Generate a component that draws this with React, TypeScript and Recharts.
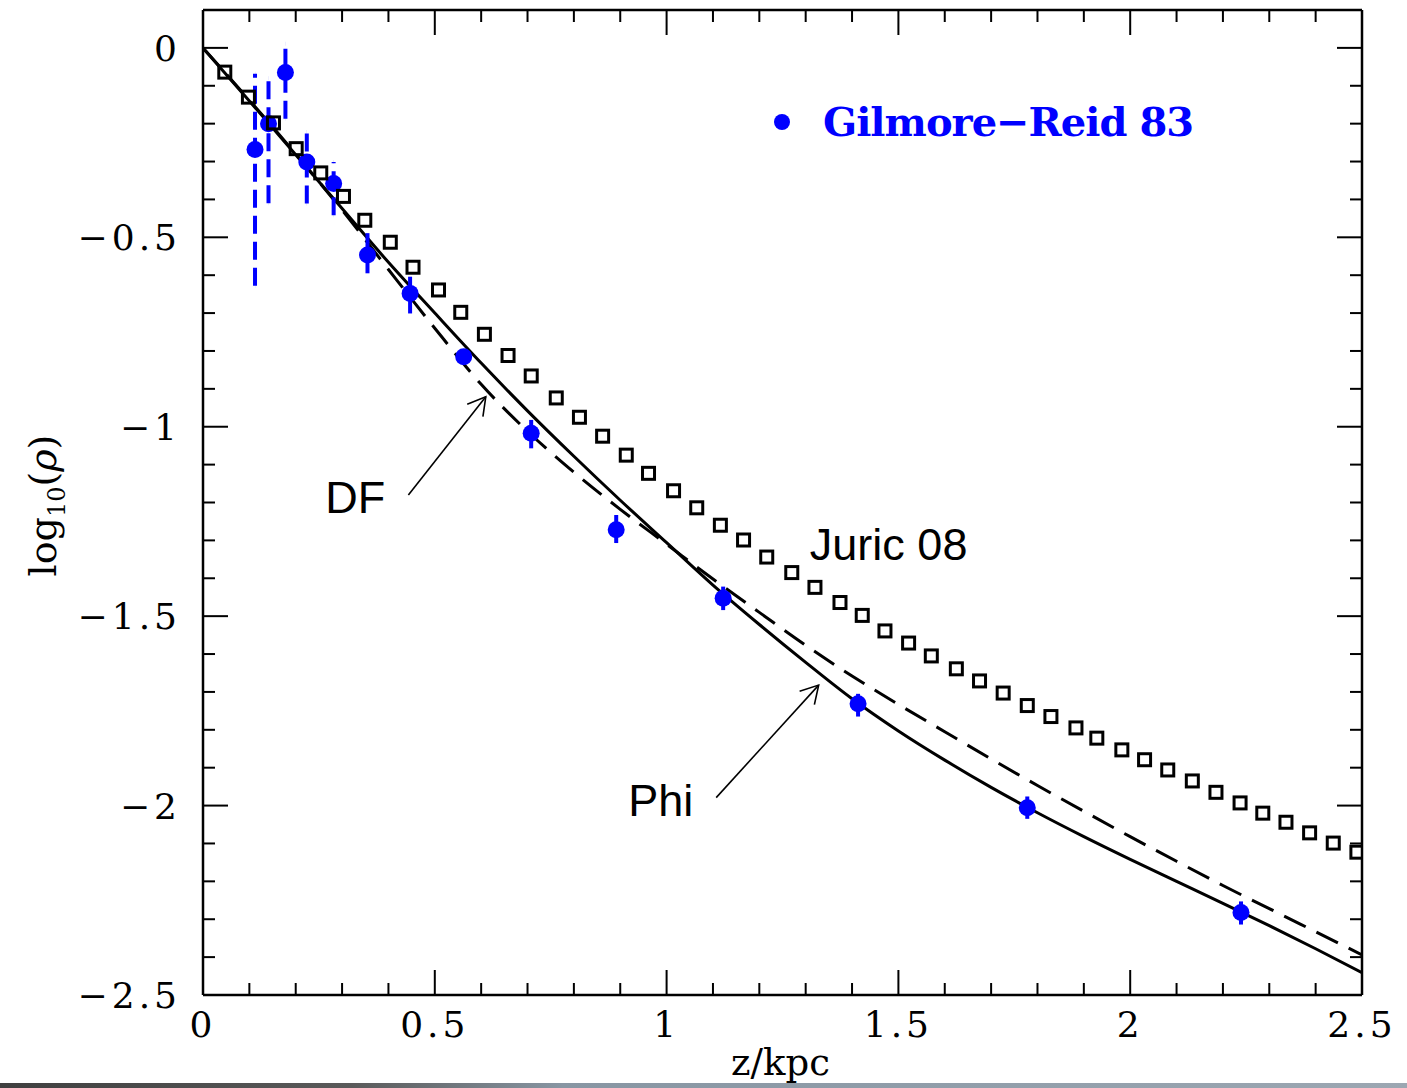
import {
  ComposedChart,
  ErrorBar,
  Label,
  Legend,
  Line,
  ReferenceDot,
  ReferenceLine,
  Scatter,
  XAxis,
  YAxis,
} from "recharts";

// axis ticks (minor every 0.1, labels on the 0.5 steps)
const zTicks = [
  0, 0.1, 0.2, 0.3, 0.4, 0.5, 0.6, 0.7, 0.8, 0.9, 1, 1.1, 1.2, 1.3, 1.4, 1.5,
  1.6, 1.7, 1.8, 1.9, 2, 2.1, 2.2, 2.3, 2.4, 2.5,
];
const logTicks = [
  0, -0.1, -0.2, -0.3, -0.4, -0.5, -0.6, -0.7, -0.8, -0.9, -1, -1.1, -1.2,
  -1.3, -1.4, -1.5, -1.6, -1.7, -1.8, -1.9, -2, -2.1, -2.2, -2.3, -2.4, -2.5,
];

// model curves
const modelZ = [
  0, 0.1, 0.2, 0.3, 0.4, 0.5, 0.6, 0.7, 0.8, 0.9, 1, 1.1, 1.2, 1.3, 1.4, 1.5,
  1.6, 1.7, 1.8, 1.9, 2, 2.1, 2.2, 2.3, 2.4, 2.5,
];
const phiLog = [
  0, -0.14, -0.282, -0.424, -0.566, -0.7, -0.832, -0.958, -1.078, -1.194,
  -1.306, -1.418, -1.522, -1.622, -1.718, -1.803, -1.88, -1.952, -2.019,
  -2.082, -2.142, -2.2, -2.258, -2.317, -2.378, -2.441,
];
const dfLog = [
  0, -0.138, -0.28, -0.428, -0.585, -0.74, -0.888, -1.012, -1.12, -1.218,
  -1.31, -1.402, -1.49, -1.577, -1.658, -1.733, -1.805, -1.877, -1.947,
  -2.015, -2.082, -2.147, -2.211, -2.272, -2.333, -2.394,
];

// Juric 08 (open squares)
const juricZ = [
  0.047, 0.098, 0.152, 0.201, 0.254, 0.303, 0.349, 0.404, 0.453, 0.508, 0.556,
  0.607, 0.658, 0.708, 0.762, 0.812, 0.862, 0.913, 0.961, 1.015, 1.065, 1.116,
  1.166, 1.216, 1.27, 1.32, 1.374, 1.422, 1.471, 1.522, 1.571, 1.625, 1.675,
  1.726, 1.778, 1.829, 1.883, 1.928, 1.982, 2.031, 2.081, 2.134, 2.185, 2.237,
  2.286, 2.336, 2.387, 2.438, 2.489,
];
const juricLog = [
  -0.064, -0.13, -0.198, -0.266, -0.33, -0.392, -0.455, -0.513, -0.579, -0.639,
  -0.698, -0.756, -0.812, -0.866, -0.924, -0.975, -1.025, -1.075, -1.123,
  -1.169, -1.214, -1.26, -1.299, -1.344, -1.385, -1.424, -1.464, -1.498,
  -1.539, -1.571, -1.605, -1.639, -1.671, -1.703, -1.736, -1.765, -1.795,
  -1.822, -1.853, -1.879, -1.906, -1.935, -1.965, -1.993, -2.02, -2.044,
  -2.072, -2.099, -2.123,
];

// Gilmore-Reid 83 (blue points with error bars)
const grZ = [
  0.1122, 0.1413, 0.1778, 0.2239, 0.2818, 0.3548, 0.4467, 0.5623, 0.7079,
  0.8913, 1.122, 1.413, 1.778, 2.239,
];
const grLog = [
  -0.268, -0.2, -0.065, -0.301, -0.358, -0.547, -0.648, -0.815, -1.017, -1.272,
  -1.453, -1.731, -2.006, -2.282,
];
const grErrLow = [
  0.36, 0.21, 0.122, 0.11, 0.084, 0.048, 0.053, 0.02, 0.04, 0.035, 0.031,
  0.034, 0.029, 0.032,
];
const grErrHigh = [
  0.2, 0.12, 0.076, 0.079, 0.057, 0.058, 0.044, 0.02, 0.035, 0.039, 0.031,
  0.026, 0.03, 0.029,
];
const grDashed = [
  true, true, true, true, true, false, false, false, false, false, false, false,
  false, false,
];

const phiData = modelZ.map((z, i) => ({ z, v: phiLog[i] }));
const dfData = modelZ.map((z, i) => ({ z, v: dfLog[i] }));
const juricData = juricZ.map((z, i) => ({ z, v: juricLog[i] }));
const grRows = grZ.map((z, i) => ({
  z,
  v: grLog[i],
  err: [grErrLow[i], grErrHigh[i]],
  dashed: grDashed[i],
}));
const grDashedData = grRows.filter((r) => r.dashed);
const grSolidData = grRows.filter((r) => !r.dashed);

const BLUE = "#0000ff";
const TICK_FONT = "'DejaVu Serif', serif";
const NOTE_FONT = "'Liberation Sans', Arial, sans-serif";

const fmt = (v: number) =>
  v === 0 ? "0" : (v < 0 ? "\u2212" : "") + String(Math.abs(v));

function AxisTick(props: any) {
  const { x, y, payload, side } = props;
  const v = payload.value;
  const major = Math.abs(v * 2 - Math.round(v * 2)) < 1e-6;
  const len = major ? 25 : 12;
  let dx = 0;
  let dy = 0;
  if (side === "bottom") dy = -len;
  else if (side === "top") dy = len;
  else if (side === "left") dx = len;
  else dx = -len;

  let label = null;
  if (major && side === "bottom") {
    label = (
      <text
        x={x}
        y={y + 42}
        textAnchor="middle"
        fontFamily={TICK_FONT}
        fontSize={36}
        letterSpacing={4}
        fill="#000"
      >
        {fmt(v)}
      </text>
    );
  }
  if (major && side === "left") {
    label = (
      <text
        x={x - 22}
        y={y}
        dy="0.36em"
        textAnchor="end"
        fontFamily={TICK_FONT}
        fontSize={36}
        letterSpacing={4}
        fill="#000"
      >
        {fmt(v)}
      </text>
    );
  }
  return (
    <g>
      <line
        x1={x}
        y1={y}
        x2={x + dx}
        y2={y + dy}
        stroke="#000"
        strokeWidth={2}
      />
      {label}
    </g>
  );
}

function OpenSquare(props: any) {
  const { cx, cy } = props;
  return (
    <rect
      x={cx - 6}
      y={cy - 6}
      width={12}
      height={12}
      fill="none"
      stroke="#000"
      strokeWidth={3}
    />
  );
}

function BlueDot(props: any) {
  const { cx, cy } = props;
  return <circle cx={cx} cy={cy} r={8.5} fill={BLUE} />;
}

// annotation arrow with its text placed before the tail
function arrowShape(text: string) {
  return (p: any) => {
    const { x1, y1, x2, y2 } = p;
    const a = Math.atan2(y1 - y2, x1 - x2);
    const w = 20;
    const h = Math.PI / 6;
    return (
      <g>
        <line x1={x1} y1={y1} x2={x2} y2={y2} stroke="#000" strokeWidth={1.6} />
        <polyline
          points={`${x2 + w * Math.cos(a + h)},${y2 + w * Math.sin(a + h)} ${x2},${y2} ${x2 + w * Math.cos(a - h)},${y2 + w * Math.sin(a - h)}`}
          fill="none"
          stroke="#000"
          strokeWidth={1.6}
        />
        <text
          x={x1 - 23}
          y={y1 + 18}
          textAnchor="end"
          fontFamily={NOTE_FONT}
          fontSize={45}
          fill="#000"
        >
          {text}
        </text>
      </g>
    );
  };
}

function YTitle(props: any) {
  const vb = props.viewBox || { x: 0, y: 10, width: 203, height: 985 };
  const cx = vb.x + 45;
  const cy = vb.y + vb.height / 2 + 3;
  return (
    <text
      x={cx}
      y={cy}
      transform={`rotate(-90, ${cx}, ${cy})`}
      textAnchor="middle"
      dy="0.3em"
      fontFamily={TICK_FONT}
      fontSize={38}
      fill="#000"
    >
      log
      <tspan dy={9} fontSize={24}>
        10
      </tspan>
      <tspan dy={-9}>(</tspan>
      <tspan fontStyle="italic">ρ</tspan>
      <tspan>)</tspan>
    </text>
  );
}

function XTitle(props: any) {
  const vb = props.viewBox || { x: 203, y: 995, width: 1159, height: 93 };
  return (
    <text
      x={vb.x + vb.width / 2 - 2}
      y={vb.y + 80}
      textAnchor="middle"
      fontFamily={TICK_FONT}
      fontSize={37}
      fill="#000"
    >
      z/kpc
    </text>
  );
}

function GilmoreLegend() {
  return (
    <div
      style={{
        display: "flex",
        alignItems: "center",
        fontFamily: TICK_FONT,
        fontWeight: "bold",
        fontSize: 40,
        lineHeight: "40px",
        letterSpacing: -1,
        color: BLUE,
        whiteSpace: "nowrap",
      }}
    >
      <svg width={20} height={20}>
        <circle cx={10} cy={10} r={8} fill={BLUE} />
      </svg>
      <span style={{ marginLeft: 31 }}>Gilmore{"\u2212"}Reid 83</span>
    </div>
  );
}

export default function App() {
  return (
    <div
      style={{
        position: "absolute",
        top: 0,
        left: 0,
        width: 1407,
        height: 1088,
        overflow: "hidden",
        background: "#fff",
      }}
    >
      <ComposedChart
        width={1407}
        height={1088}
        margin={{ top: 0, right: 0, bottom: 0, left: 0 }}
      >
        <XAxis
          xAxisId="b"
          orientation="bottom"
          dataKey="z"
          type="number"
          domain={[0, 2.5]}
          ticks={zTicks}
          interval={0}
          allowDataOverflow
          height={93}
          tickSize={0}
          tickMargin={0}
          tickLine={false}
          axisLine={{ stroke: "#000", strokeWidth: 2.5 }}
          tick={(p: any) => <AxisTick {...p} side="bottom" />}
        >
          <Label content={XTitle} />
        </XAxis>
        <XAxis
          xAxisId="t"
          orientation="top"
          dataKey="z"
          type="number"
          domain={[0, 2.5]}
          ticks={zTicks}
          interval={0}
          allowDataOverflow
          height={10}
          tickSize={0}
          tickMargin={0}
          tickLine={false}
          axisLine={{ stroke: "#000", strokeWidth: 2.5 }}
          tick={(p: any) => <AxisTick {...p} side="top" />}
        />
        <YAxis
          yAxisId="l"
          orientation="left"
          type="number"
          domain={[-2.5, 0.1]}
          ticks={logTicks}
          interval={0}
          allowDataOverflow
          width={203}
          tickSize={0}
          tickMargin={0}
          tickLine={false}
          axisLine={{ stroke: "#000", strokeWidth: 2.5 }}
          tick={(p: any) => <AxisTick {...p} side="left" />}
        >
          <Label content={YTitle} />
        </YAxis>
        <YAxis
          yAxisId="r"
          orientation="right"
          type="number"
          domain={[-2.5, 0.1]}
          ticks={logTicks}
          interval={0}
          allowDataOverflow
          width={45}
          tickSize={0}
          tickMargin={0}
          tickLine={false}
          axisLine={{ stroke: "#000", strokeWidth: 2.5 }}
          tick={(p: any) => <AxisTick {...p} side="right" />}
        />

        <Line
          xAxisId="b"
          yAxisId="l"
          data={dfData}
          dataKey="v"
          name="DF"
          type="monotone"
          stroke="#000"
          strokeWidth={3}
          strokeDasharray="24 12"
          dot={false}
          isAnimationActive={false}
        />
        <Line
          xAxisId="b"
          yAxisId="l"
          data={phiData}
          dataKey="v"
          name="Phi"
          type="monotone"
          stroke="#000"
          strokeWidth={3}
          dot={false}
          isAnimationActive={false}
        />
        <Scatter
          xAxisId="b"
          yAxisId="l"
          data={grDashedData}
          dataKey="v"
          name="Gilmore-Reid 83"
          shape={BlueDot}
          isAnimationActive={false}
        >
          <ErrorBar
            dataKey="err"
            direction="y"
            width={0}
            stroke={BLUE}
            strokeWidth={4}
            strokeDasharray="18 8"
            isAnimationActive={false}
          />
        </Scatter>
        <Scatter
          xAxisId="b"
          yAxisId="l"
          data={juricData}
          dataKey="v"
          name="Juric 08"
          shape={OpenSquare}
          isAnimationActive={false}
        />
        <Scatter
          xAxisId="b"
          yAxisId="l"
          data={grSolidData}
          dataKey="v"
          name="Gilmore-Reid 83 "
          shape={BlueDot}
          isAnimationActive={false}
        >
          <ErrorBar
            dataKey="err"
            direction="y"
            width={0}
            stroke={BLUE}
            strokeWidth={4}
            isAnimationActive={false}
          />
        </Scatter>

        <ReferenceLine
          xAxisId="b"
          yAxisId="l"
          segment={[
            { x: 0.443, y: -1.18 },
            { x: 0.61, y: -0.921 },
          ]}
          shape={arrowShape("DF")}
        />
        <ReferenceLine
          xAxisId="b"
          yAxisId="l"
          segment={[
            { x: 1.107, y: -1.979 },
            { x: 1.328, y: -1.682 },
          ]}
          shape={arrowShape("Phi")}
        />
        <ReferenceDot
          xAxisId="b"
          yAxisId="l"
          x={1.309}
          y={-1.352}
          r={0}
          shape={(p: any) => (
            <text
              x={p.cx}
              y={p.cy}
              fontFamily={NOTE_FONT}
              fontSize={45}
              fill="#000"
            >
              Juric 08
            </text>
          )}
        />

        <Legend
          layout="horizontal"
          verticalAlign="middle"
          align="center"
          wrapperStyle={{ top: 102, left: 772, width: 440 }}
          content={() => <GilmoreLegend />}
        />
      </ComposedChart>
      <div
        style={{
          position: "absolute",
          left: 0,
          top: 1083,
          width: 1407,
          height: 5,
          background:
            "linear-gradient(to right, #3f3f3f 0%, #5a5a5a 25%, #8896a3 40%, #9ca7b2 100%)",
        }}
      />
    </div>
  );
}
